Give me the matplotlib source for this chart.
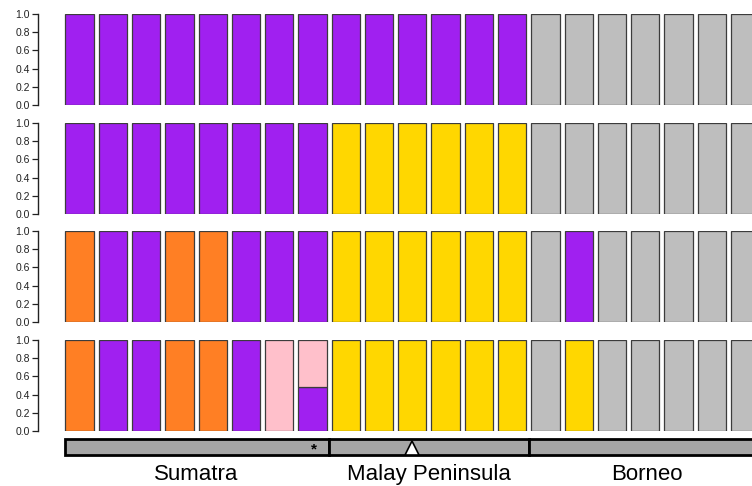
import matplotlib
matplotlib.use("Agg")
import matplotlib.pyplot as plt

plt.rcParams['font.family'] = ['Liberation Sans', 'DejaVu Sans']

# cluster codes -> colours
cluster_colors = {
    "P": "#A020F0",   # purple
    "O": "#FF7F24",   # orange
    "Y": "#FFD700",   # gold
    "G": "#BEBEBE",   # grey
    "K": "#FFC0CB",   # pink
}

# one letter per individual, one string per K
k2_assign = "PPPPPPPPPPPPPPGGGGGGG"
k3_assign = "PPPPPPPPYYYYYYGGGGGGG"
k4_assign = "OPPOOPPPYYYYYYGPGGGGG"
k5_assign = "OPPOOPKKYYYYYYGYGGGGG"

# the one admixed individual in the last row
mix_index = 7
mix_purple = 0.48

regions = ["Sumatra", "Malay Peninsula", "Borneo"]
region_sizes = [8, 6, 7]
star_index = 7
triangle_index = 10

tick_values = [0.0, 0.2, 0.4, 0.6, 0.8, 1.0]


def memberships(assign, row):
    '''
    Turn an assignment string into stacked (colour, bottom, height) lists
    '''
    stacks = []
    for i, code in enumerate(assign):
        if row == 3 and i == mix_index:
            stacks.append([("P", 0.0, mix_purple), ("K", mix_purple, 1 - mix_purple)])
        else:
            stacks.append([(code, 0.0, 1.0)])
    return stacks


W, H = 752, 486
fig = plt.figure(figsize=(W / 100, H / 100), dpi=100)

left_px = 38
x_min = -1.25
x_max = 20.21
row_tops = [14, 123, 231, 340]
row_height = 91

rows = [k2_assign, k3_assign, k4_assign, k5_assign]
for r, assign in enumerate(rows):
    top = row_tops[r]
    ax = fig.add_axes([left_px / W, 1 - (top + row_height) / H,
                       (W - left_px) / W, row_height / H])
    for i, stack in enumerate(memberships(assign, r)):
        for code, bottom, height in stack:
            ax.bar(i, height, bottom=bottom, width=0.85,
                   color=cluster_colors[code], edgecolor="#3c3c3c", linewidth=0.9)
    ax.set_xlim(x_min, x_max)
    ax.set_ylim(0, 1)
    for side in ["top", "right", "bottom"]:
        ax.spines[side].set_visible(False)
    ax.spines["left"].set_color("#222222")
    ax.spines["left"].set_linewidth(1.0)
    ax.set_xticks([])
    ax.set_yticks(tick_values)
    ax.set_yticklabels(["%.1f" % v for v in tick_values])
    ax.tick_params(axis="y", length=4.5, width=0.9, pad=1.5, labelsize=7.5,
                   colors="#222222")
    ax.patch.set_alpha(0)

# region bar underneath
gax = fig.add_axes([left_px / W, 1 - 455 / H, (W - left_px) / W, 16 / H])
gax.set_xlim(x_min, x_max)
gax.set_ylim(0, 1)
gax.axis("off")

start = 0
for name, size in zip(regions, region_sizes):
    x0 = start - 0.45 if start == 0 else start - 0.5
    x1 = start + size - 0.5
    if name == regions[-1]:
        x1 = start + size + 1
    gax.bar((x0 + x1) / 2, 1, width=x1 - x0, bottom=0, color="#A6A6A6",
            edgecolor="black", linewidth=2, clip_on=False)
    center = (start - 0.5 + start + size - 0.5) / 2
    if name == regions[-1]:
        center = start + 3.05
    gax.text(center, -1.2, name, ha="center", va="center", fontsize=16,
             clip_on=False)
    start += size

gax.text(star_index + 0.05, 0.35, "*", ha="center", va="center", fontsize=11,
         fontweight="bold")
gax.plot(triangle_index, 0.45, marker="^", markersize=10, color="white",
         markeredgecolor="black", markeredgewidth=1.2, clip_on=False)

fig.savefig("out.png", dpi=100)
